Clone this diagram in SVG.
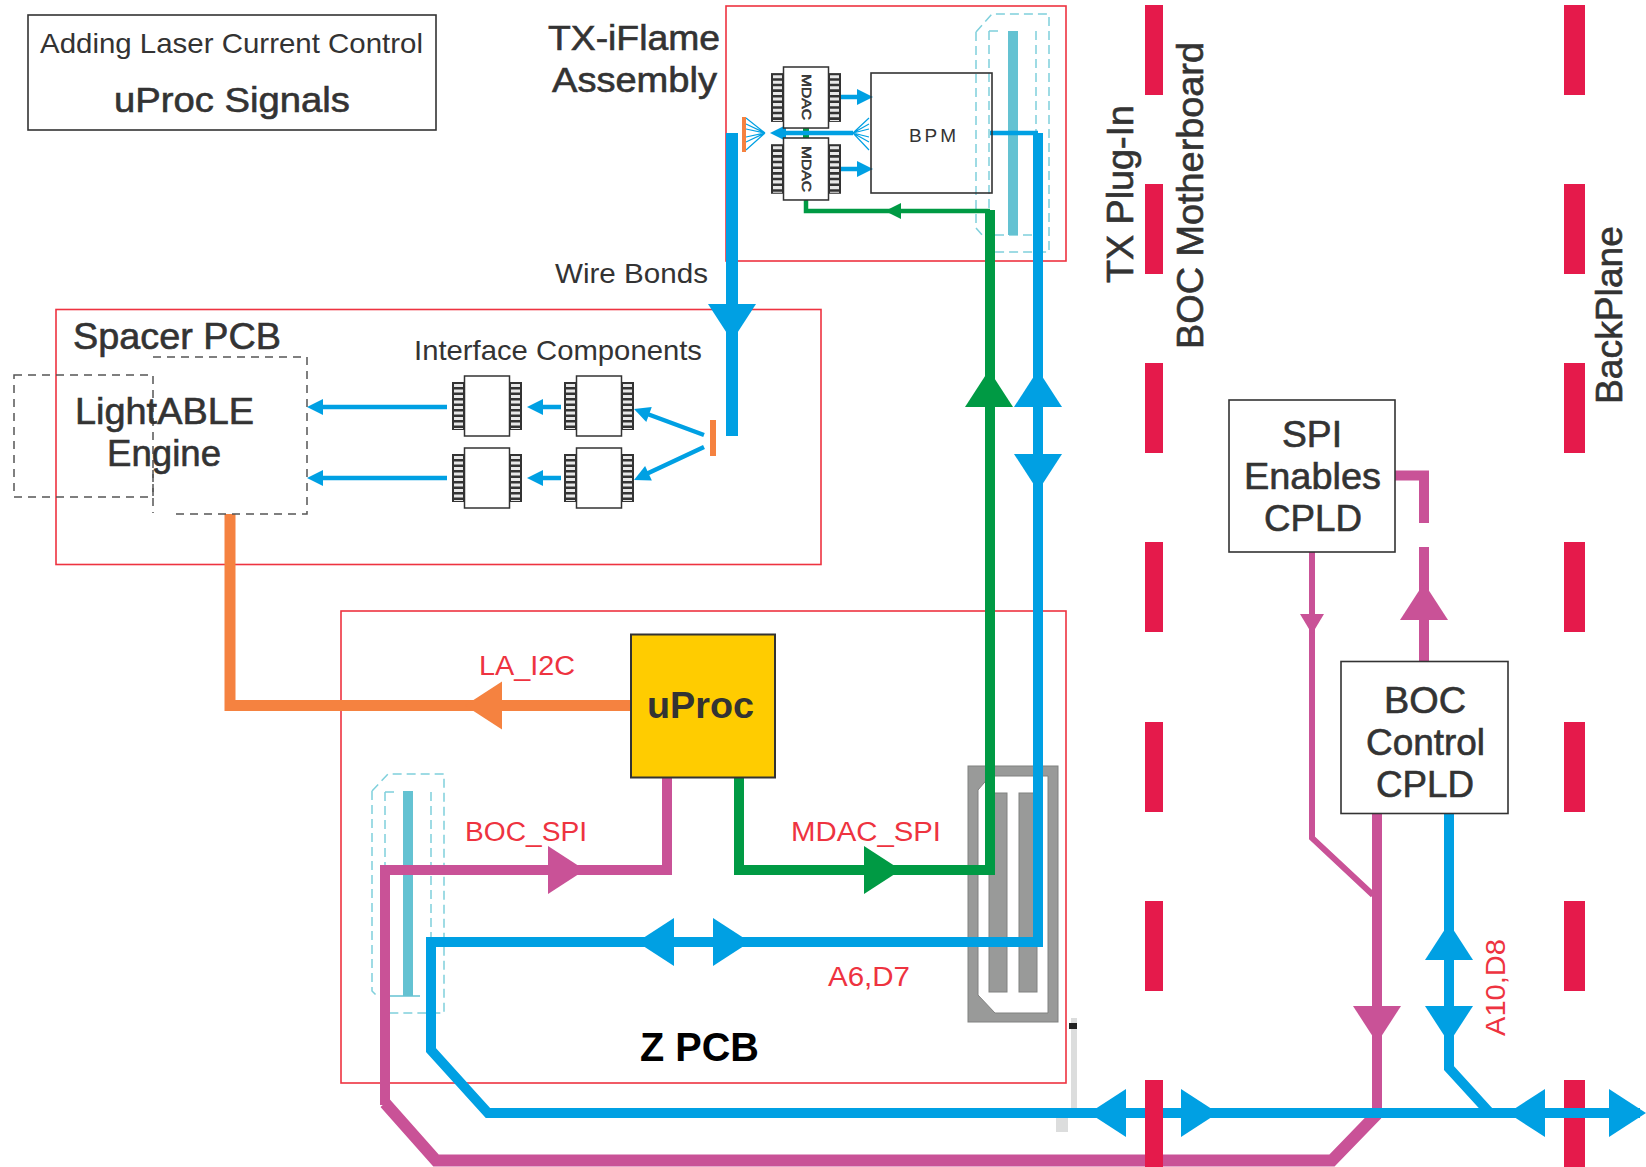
<svg xmlns="http://www.w3.org/2000/svg" xmlns:xlink="http://www.w3.org/1999/xlink" width="1646" height="1167" viewBox="0 0 1646 1167">
<style>
text{font-family:"Liberation Sans",Arial,sans-serif;fill:#333}
.dk{stroke:#333;stroke-width:.6}
.pcb{fill:none;stroke:#ee3340;stroke-width:1.6}
.box{fill:#fff;stroke:#333;stroke-width:1.6}
.dash{fill:none;stroke:#555;stroke-width:1.5;stroke-dasharray:8 6}
.cy{fill:none;stroke:#7fd0dc;stroke-width:1.5;stroke-dasharray:9 5}
.bar{fill:#64c2d2}
.l{fill:none;stroke-linejoin:miter}
.b{stroke:#00a0e3}.g{stroke:#009a44}.p{stroke:#c95297}.o{stroke:#f58240}
.fb{fill:#00a0e3}.fg{fill:#009a44}.fp{fill:#c95297}.fo{fill:#f58240}
.w10{stroke-width:10}.w4{stroke-width:4.5}.w12{stroke-width:12}.w11{stroke-width:11}.w6{stroke-width:6}
.seg{fill:#e51a4b}
.fan{fill:none;stroke:#00a0e3;stroke-width:1.2}
.gr{fill:#999a99;stroke:#808180;stroke-width:1}
.rt{fill:#ee3340}
</style>
<defs>
<path id="ah" d="M0 0L-37 -24L-37 24Z"/>
<path id="as" d="M0 0L-16 -8L-16 8Z"/>
<g id="chip">
<rect x="0" y="6" width="70" height="48" fill="#333"/>
<line x1="6.500" y1="8" x2="6.500" y2="53" stroke="#e8e8e8" stroke-width="9" stroke-dasharray="3 2.500"/>
<line x1="63.500" y1="8" x2="63.500" y2="53" stroke="#e8e8e8" stroke-width="9" stroke-dasharray="3 2.500"/>
<rect x="12.500" y="0" width="45" height="60" fill="#fff" stroke="#333" stroke-width="1.500"/>
</g>
</defs>
<rect width="1646" height="1167" fill="#fff"/>

<g id="boundaries-backplane">
<rect class="seg" x="1564" y="5" width="21" height="90"/><rect class="seg" x="1564" y="184" width="21" height="90"/><rect class="seg" x="1564" y="363" width="21" height="90"/><rect class="seg" x="1564" y="542" width="21" height="90"/><rect class="seg" x="1564" y="722" width="21" height="90"/><rect class="seg" x="1564" y="901" width="21" height="90"/><rect class="seg" x="1564" y="1080" width="21" height="87"/>
</g>

<g id="pcb-frames">
<rect class="pcb" x="726" y="6" width="340" height="255"/>
<rect class="pcb" x="56" y="309.500" width="765" height="255"/>
<rect class="pcb" x="341" y="611" width="725" height="472"/>
</g>

<g id="connector-top">
<path class="cy" d="M976 32L992 14H1049V252H995M976 32V228L983 236"/>
<path class="cy" d="M989 31H1000M989 31V235H1036M1036 31V235"/>
<rect class="bar" x="1008" y="31" width="10" height="204"/>
</g>
<g id="connector-left">
<path class="cy" d="M372 791L388 774H444V1013H385M372 791V991L378 997"/>
<path class="cy" d="M385 792H396M385 792V1000M431 792V1000"/>
<rect class="bar" x="403" y="791" width="10" height="205"/>
<line x1="390" y1="996" x2="420" y2="996" stroke="#64c2d2" stroke-width="1.500"/>
</g>
<g id="connector-z">
<rect class="gr" x="968" y="766" width="90" height="256"/>
<path d="M978 790L990 776H1048V1013H995L978 995Z" fill="#fff" stroke="#808180"/>
<rect class="gr" x="989" y="793" width="18" height="199"/>
<rect class="gr" x="1019" y="793" width="18" height="199"/>
</g>
<g id="tab">
<rect x="1071" y="1018" width="6" height="90" fill="#dcdddd"/>
<rect x="1056" y="1117" width="12" height="15" fill="#dcdddd"/>
<rect x="1069" y="1023" width="8" height="6" fill="#222"/>
</g>

<g id="connectors">
<path class="l p w12" d="M1377 1114L1332 1160.500H436L385 1103"/>
<path class="l p w10" d="M385 1105V870H667V777"/>
<path class="l p w10" d="M1377 813V1114"/>
<path class="l p w6" d="M1312 552V838L1373 895"/>
<path class="l p w10" d="M1395 475.500H1424V523M1424 547V661"/>
<use href="#ah" class="fp" transform="translate(585,870)"/>
<use href="#ah" class="fp" transform="translate(1377,1043) rotate(90)"/>
<use href="#ah" class="fp" transform="translate(1424,583) rotate(-90)"/>
<use href="#as" class="fp" transform="translate(1312,634) rotate(90) scale(1.250,1.500)"/>

<path class="l o w11" d="M230 514V705.500H632"/>
<use href="#ah" class="fo" transform="translate(465,705.500) rotate(180)"/>

<path class="l g w10" d="M739 777V870H990V210"/>
<path class="l g w4" d="M990 211H806V200"/>
<rect class="fg" x="803" y="128" width="6" height="10"/>
<use href="#ah" class="fg" transform="translate(901,870)"/>
<use href="#ah" class="fg" transform="translate(989,370) rotate(-90)"/>
<use href="#as" class="fg" transform="translate(885,211)  rotate(180)"/>

<path class="l b w10" d="M1038 133V942H431V1050L488 1113H1508"/>
<path class="l b w4" d="M990 133H1038"/>
<path class="l b w10" d="M1449 813V1068L1490 1113M1508 1113H1640"/>
<use href="#ah" class="fb" transform="translate(1038,370) rotate(-90)"/>
<use href="#ah" class="fb" transform="translate(1038,491) rotate(90)"/>
<use href="#ah" class="fb" transform="translate(637,942) rotate(180)"/>
<use href="#ah" class="fb" transform="translate(750,942)"/>
<use href="#ah" class="fb" transform="translate(1089,1113) rotate(180)"/>
<use href="#ah" class="fb" transform="translate(1218,1113)"/>
<use href="#ah" class="fb" transform="translate(1508,1113) rotate(180)"/>
<use href="#ah" class="fb" transform="translate(1646,1113)"/>
<use href="#ah" class="fb" transform="translate(1449,923) rotate(-90)"/>
<use href="#ah" class="fb" transform="translate(1449,1043) rotate(90)"/>
<path class="l b w12" d="M732 133V436"/>
<use href="#ah" class="fb" transform="translate(732,341) rotate(90)"/>
<path class="l b w4" d="M447 407H315M447 478H315M561 407H535M561 478H535M704 435L642 412M704 447L642 476M839 97H860M839 169H860M853 133H778"/>
<use href="#as" class="fb" transform="translate(307,407) rotate(180)"/>
<use href="#as" class="fb" transform="translate(307,478) rotate(180)"/>
<use href="#as" class="fb" transform="translate(527,407) rotate(180)"/>
<use href="#as" class="fb" transform="translate(527,478) rotate(180)"/>
<use href="#as" class="fb" transform="translate(634,409) rotate(200)"/>
<use href="#as" class="fb" transform="translate(634,480) rotate(155)"/>
<use href="#as" class="fb" transform="translate(873,97)"/>
<use href="#as" class="fb" transform="translate(873,169)"/>
<use href="#as" class="fb" transform="translate(770,133) rotate(180)"/>
<path class="fan" d="M853 133L869 118M853 133L869 124M853 133L869 129M853 133L869 137M853 133L869 142M853 133L869 150M765 133L746 118M765 133L746 124M765 133L746 129M765 133L746 137M765 133L746 142M765 133L746 150"/>
<rect class="fo" x="742" y="117" width="4" height="35"/>
<rect class="fo" x="710" y="420" width="6" height="36"/>
</g>

<g id="boundaries-motherboard">
<rect class="seg" x="1145" y="5" width="18" height="90"/><rect class="seg" x="1145" y="184" width="18" height="90"/><rect class="seg" x="1145" y="363" width="18" height="90"/><rect class="seg" x="1145" y="542" width="18" height="90"/><rect class="seg" x="1145" y="722" width="18" height="90"/><rect class="seg" x="1145" y="901" width="18" height="90"/><rect class="seg" x="1145" y="1080" width="18" height="87"/>
</g>

<g id="title-box">
<rect class="box" x="28" y="15" width="408" height="115"/>
<text x="40" y="53" font-size="28" textLength="383" lengthAdjust="spacingAndGlyphs">Adding Laser Current Control</text>
<text x="114" y="112" font-size="35" class="dk" textLength="236" lengthAdjust="spacingAndGlyphs">uProc Signals</text>
</g>
<g id="tx-iflame">
<text x="548" y="50" font-size="35" class="dk" textLength="172" lengthAdjust="spacingAndGlyphs">TX-iFlame</text>
<text x="552" y="92" font-size="35" class="dk" textLength="165" lengthAdjust="spacingAndGlyphs">Assembly</text>
</g>
<g id="mdac-1"><use href="#chip" transform="translate(771,67) scale(1,1.017)"/><text transform="translate(802,74) rotate(90)" font-size="13" class="dk" textLength="46" lengthAdjust="spacingAndGlyphs">MDAC</text></g>
<g id="mdac-2"><use href="#chip" transform="translate(771,138) scale(1,1.033)"/><text transform="translate(802,146) rotate(90)" font-size="13" class="dk" textLength="46" lengthAdjust="spacingAndGlyphs">MDAC</text></g>
<g id="bpm">
<rect class="box" x="871" y="73" width="121" height="120" style="fill:none"/>
<text x="909" y="142" font-size="19" textLength="47">BPM</text>
</g>
<text x="555" y="283" font-size="28" textLength="153" lengthAdjust="spacingAndGlyphs">Wire Bonds</text>
<g id="spacer-pcb">
<text x="73" y="349" font-size="36" class="dk" textLength="208" lengthAdjust="spacingAndGlyphs">Spacer PCB</text>
<text x="414" y="360" font-size="28" textLength="288" lengthAdjust="spacingAndGlyphs">Interface Components</text>
</g>
<g id="lightable-engine">
<rect class="dash" x="14" y="375" width="139" height="122"/>
<path class="dash" d="M153 357H307V514H172M153 470V513"/>
<text x="75" y="424" font-size="36" class="dk" textLength="179" lengthAdjust="spacingAndGlyphs">LightABLE</text>
<text x="107" y="466" font-size="36" class="dk" textLength="114" lengthAdjust="spacingAndGlyphs">Engine</text>
</g>
<g id="chip-1"><use href="#chip" x="452" y="376"/></g>
<g id="chip-2"><use href="#chip" x="564" y="376"/></g>
<g id="chip-3"><use href="#chip" x="452" y="448"/></g>
<g id="chip-4"><use href="#chip" x="564" y="448"/></g>
<g id="uproc">
<rect x="631" y="634.500" width="144" height="143" fill="#ffcc00" stroke="#333" stroke-width="2"/>
<text x="647" y="718" font-size="36" font-weight="bold" textLength="107" lengthAdjust="spacingAndGlyphs">uProc</text>
</g>
<g id="spi-enables-cpld">
<rect class="box" x="1229" y="400" width="166" height="152"/>
<text x="1282" y="447" font-size="36" class="dk" textLength="60" lengthAdjust="spacingAndGlyphs">SPI</text>
<text x="1244" y="489" font-size="36" class="dk" textLength="137" lengthAdjust="spacingAndGlyphs">Enables</text>
<text x="1264" y="531" font-size="36" class="dk" textLength="98" lengthAdjust="spacingAndGlyphs">CPLD</text>
</g>
<g id="boc-control-cpld">
<rect class="box" x="1341" y="661.500" width="167" height="152"/>
<text x="1384" y="713" font-size="36" class="dk" textLength="82" lengthAdjust="spacingAndGlyphs">BOC</text>
<text x="1366" y="755" font-size="36" class="dk" textLength="119" lengthAdjust="spacingAndGlyphs">Control</text>
<text x="1376" y="797" font-size="36" class="dk" textLength="98" lengthAdjust="spacingAndGlyphs">CPLD</text>
</g>
<g id="labels">
<text class="rt" x="479" y="675" font-size="27" style="fill:#ee3340" textLength="96" lengthAdjust="spacingAndGlyphs">LA_I2C</text>
<text class="rt" x="465" y="841" font-size="27" style="fill:#ee3340" textLength="122" lengthAdjust="spacingAndGlyphs">BOC_SPI</text>
<text class="rt" x="791" y="841" font-size="27" style="fill:#ee3340" textLength="150" lengthAdjust="spacingAndGlyphs">MDAC_SPI</text>
<text class="rt" x="828" y="986" font-size="27" style="fill:#ee3340" textLength="82" lengthAdjust="spacingAndGlyphs">A6,D7</text>
<text class="rt" transform="translate(1505,1036) rotate(-90)" font-size="27" style="fill:#ee3340" textLength="97" lengthAdjust="spacingAndGlyphs">A10,D8</text>
<text x="640" y="1061" font-size="40" font-weight="bold" style="fill:#000" textLength="119" lengthAdjust="spacingAndGlyphs">Z PCB</text>
<text transform="translate(1133,283) rotate(-90)" font-size="36" class="dk" textLength="178" lengthAdjust="spacingAndGlyphs">TX Plug-In</text>
<text transform="translate(1203,349) rotate(-90)" font-size="36" class="dk" textLength="307" lengthAdjust="spacingAndGlyphs">BOC Motherboard</text>
<text transform="translate(1622,404) rotate(-90)" font-size="36" class="dk" textLength="178" lengthAdjust="spacingAndGlyphs">BackPlane</text>
</g>
</svg>
